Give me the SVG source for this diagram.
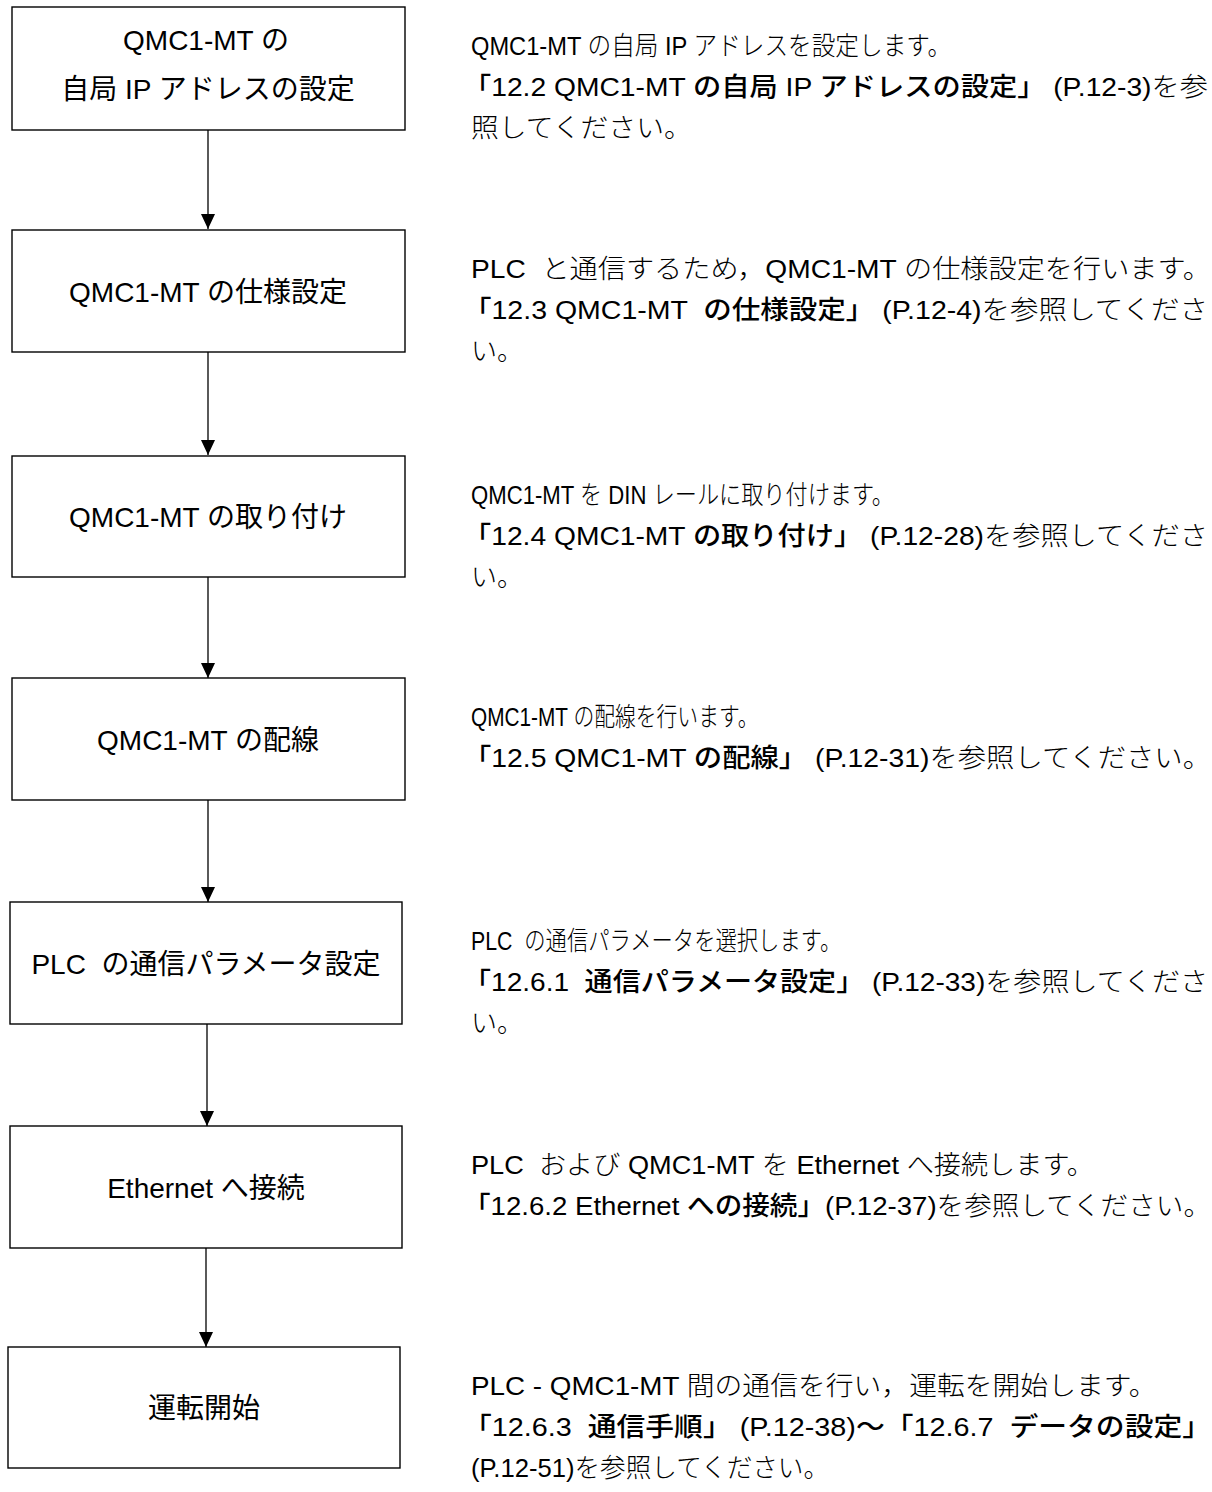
<svg xmlns="http://www.w3.org/2000/svg" width="1212" height="1492" viewBox="0 0 1212 1492">
<style>
.box{fill:#fff;stroke:#000;stroke-width:1.4}
.bt{font-family:"Liberation Sans","Noto Sans CJK JP",sans-serif;font-size:28px;text-anchor:middle;fill:#000;white-space:pre}
.rt{font-family:"Liberation Sans","Noto Sans CJK JP",sans-serif;font-size:26px;fill:#000;white-space:pre}
.l{font-weight:300}
.m{font-weight:500}
.conn{stroke:#000;stroke-width:1.3;fill:none;marker-end:url(#ah)}
</style>
<defs>
<marker id="ah" viewBox="0 0 15 14" refX="15" refY="7" markerWidth="15" markerHeight="14" orient="auto" markerUnits="userSpaceOnUse"><path d="M0,0 L15,7 L0,14 Z" fill="#000"/></marker>
</defs>
<rect width="1212" height="1492" fill="#fff"/>
<g id="connectors">
<line class="conn" x1="208" y1="130" x2="208" y2="229"/>
<line class="conn" x1="208" y1="352" x2="208" y2="455"/>
<line class="conn" x1="208" y1="577" x2="208" y2="678"/>
<line class="conn" x1="208" y1="800" x2="208" y2="902"/>
<line class="conn" x1="207" y1="1024" x2="207" y2="1126"/>
<line class="conn" x1="206" y1="1248" x2="206" y2="1347"/>
</g>
<g id="step1">
<rect class="box" x="12" y="7" width="393" height="123"/>
<text class="bt" x="206" y="50">QMC1-MT の</text>
<text class="bt" x="208" y="99">自局 IP アドレスの設定</text>
</g>
<g id="step2">
<rect class="box" x="12" y="230" width="393" height="122"/>
<text class="bt" x="208" y="302">QMC1-MT の仕様設定</text>
</g>
<g id="step3">
<rect class="box" x="12" y="456" width="393" height="121"/>
<text class="bt" x="208" y="527">QMC1-MT の取り付け</text>
</g>
<g id="step4">
<rect class="box" x="12" y="678" width="393" height="122"/>
<text class="bt" x="208" y="750">QMC1-MT の配線</text>
</g>
<g id="step5">
<rect class="box" x="10" y="902" width="392" height="122"/>
<text class="bt" x="206" y="974">PLC  の通信パラメータ設定</text>
</g>
<g id="step6">
<rect class="box" x="10" y="1126" width="392" height="122"/>
<text class="bt" x="206" y="1198">Ethernet へ接続</text>
</g>
<g id="step7">
<rect class="box" x="8" y="1347" width="392" height="121"/>
<text class="bt" x="204" y="1418">運転開始</text>
</g>
<g id="desc1">
<text class="rt" transform="translate(471 55) scale(0.91 1)">QMC1-MT <tspan class="l">の自局 </tspan>IP <tspan class="l">アドレスを設定します。</tspan></text>
<text class="rt" x="463" y="96" textLength="745" lengthAdjust="spacingAndGlyphs"><tspan class="m">「12.2 QMC1-MT の自局 IP アドレスの設定」</tspan> (P.12-3)<tspan class="l">を参</tspan></text>
<text class="rt l" transform="translate(471 137) scale(1.07 1)">照してください。</text>
</g>
<g id="desc2">
<text class="rt" x="471" y="278" textLength="740" lengthAdjust="spacingAndGlyphs">PLC  <tspan class="l">と通信するため，</tspan>QMC1-MT <tspan class="l">の仕様設定を行います。</tspan></text>
<text class="rt" x="463" y="319" textLength="745" lengthAdjust="spacingAndGlyphs"><tspan class="m">「12.3 QMC1-MT  の仕様設定」</tspan> (P.12-4)<tspan class="l">を参照してくださ</tspan></text>
<text class="rt l" x="471" y="360">い。</text>
</g>
<g id="desc3">
<text class="rt" transform="translate(471 504) scale(0.852 1)">QMC1-MT <tspan class="l">を </tspan>DIN <tspan class="l">レールに取り付けます。</tspan></text>
<text class="rt" x="463" y="545" textLength="745" lengthAdjust="spacingAndGlyphs"><tspan class="m">「12.4 QMC1-MT の取り付け」</tspan> (P.12-28)<tspan class="l">を参照してくださ</tspan></text>
<text class="rt l" x="471" y="586">い。</text>
</g>
<g id="desc4">
<text class="rt" transform="translate(471 726) scale(0.8 1)">QMC1-MT <tspan class="l">の配線を行います。</tspan></text>
<text class="rt" x="463" y="767" textLength="748" lengthAdjust="spacingAndGlyphs"><tspan class="m">「12.5 QMC1-MT の配線」</tspan> (P.12-31)<tspan class="l">を参照してください。</tspan></text>
</g>
<g id="desc5">
<text class="rt" transform="translate(471 950) scale(0.82 1)">PLC  <tspan class="l">の通信パラメータを選択します。</tspan></text>
<text class="rt" x="463" y="991" textLength="745" lengthAdjust="spacingAndGlyphs"><tspan class="m">「12.6.1  通信パラメータ設定」</tspan> (P.12-33)<tspan class="l">を参照してくださ</tspan></text>
<text class="rt l" x="471" y="1032">い。</text>
</g>
<g id="desc6">
<text class="rt" transform="translate(471 1174) scale(1.045 1)">PLC  <tspan class="l">および </tspan>QMC1-MT <tspan class="l">を </tspan>Ethernet <tspan class="l">へ接続します。</tspan></text>
<text class="rt" x="463" y="1215" textLength="748" lengthAdjust="spacingAndGlyphs"><tspan class="m">「12.6.2 Ethernet への接続」</tspan>(P.12-37)<tspan class="l">を参照してください。</tspan></text>
</g>
<g id="desc7">
<text class="rt" transform="translate(471 1395) scale(1.07 1)">PLC - QMC1-MT <tspan class="l">間の通信を行い，運転を開始します。</tspan></text>
<text class="rt" x="463" y="1436" textLength="748" lengthAdjust="spacingAndGlyphs"><tspan class="m">「12.6.3  通信手順」</tspan> (P.12-38)<tspan class="m">〜「12.6.7  データの設定」</tspan></text>
<text class="rt" transform="translate(471 1477) scale(0.986 1)">(P.12-51)<tspan class="l">を参照してください。</tspan></text>
</g>
</svg>
